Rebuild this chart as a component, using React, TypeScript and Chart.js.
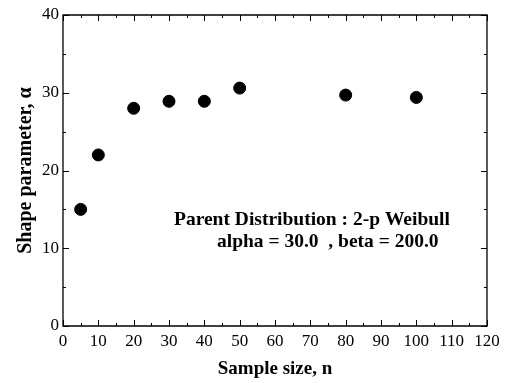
import React, { useEffect, useRef } from "react";
import { Chart, registerables } from "chart.js";

Chart.register(...registerables);

const sampleSizes = [5, 10, 20, 30, 40, 50, 80, 100];
const shapeValues = [15, 22, 28, 28.9, 28.9, 30.6, 29.7, 29.4];
const xMajorTicks = [0, 10, 20, 30, 40, 50, 60, 70, 80, 90, 100, 110, 120];
const yMajorTicks = [0, 10, 20, 30, 40];
const xTitle = "Sample size, n";
const yTitle = "Shape parameter, \u03b1";
const noteLine1 = "Parent Distribution : 2-p Weibull";
const noteLine2 = "alpha = 30.0  , beta = 200.0";

const SERIF = "'Liberation Serif', 'Times New Roman', serif";

const framePlugin = {
  id: "frameTicks",
  beforeDatasetsDraw(chart: any) {
    const { ctx, chartArea } = chart;
    const { left, right, top, bottom } = chartArea;
    const xs = chart.scales.x;
    const ys = chart.scales.y;
    ctx.save();
    ctx.strokeStyle = "#000";
    ctx.lineWidth = 1.3;
    ctx.beginPath();
    ctx.rect(left, top, right - left, bottom - top);
    ctx.stroke();
    ctx.lineWidth = 1;
    ctx.beginPath();
    for (let v = 0; v <= 120; v += 5) {
      const px = Math.round(xs.getPixelForValue(v)) + 0.5;
      const len = v % 10 === 0 ? 6 : 3;
      ctx.moveTo(px, bottom);
      ctx.lineTo(px, bottom - len);
      ctx.moveTo(px, top);
      ctx.lineTo(px, top + len);
    }
    for (let v = 0; v <= 40; v += 5) {
      const py = Math.round(ys.getPixelForValue(v)) + 0.5;
      const len = v % 10 === 0 ? 6 : 3;
      ctx.moveTo(left, py);
      ctx.lineTo(left + len, py);
      ctx.moveTo(right, py);
      ctx.lineTo(right - len, py);
    }
    ctx.stroke();
    ctx.restore();
  },
  afterDraw(chart: any) {
    const { ctx, chartArea } = chart;
    ctx.save();
    ctx.fillStyle = "#000";
    ctx.font = `bold 19.5px ${SERIF}`;
    ctx.textAlign = "left";
    ctx.textBaseline = "alphabetic";
    ctx.fillText(noteLine1, chartArea.left + 111, chartArea.top + 210);
    ctx.fillText(noteLine2, chartArea.left + 154, chartArea.top + 231.5);
    ctx.restore();
  },
};

export default function App() {
  const ref = useRef<HTMLCanvasElement | null>(null);
  useEffect(() => {
    document.body.style.margin = "0";
    const canvas = ref.current;
    if (!canvas) return;
    const chart = new Chart(canvas, {
      type: "scatter",
      data: {
        datasets: [
          {
            data: sampleSizes.map((x, i) => ({ x, y: shapeValues[i] })),
            backgroundColor: "#000",
            borderColor: "#000",
            borderWidth: 1,
            pointRadius: 6,
            pointHoverRadius: 6,
          },
        ],
      },
      options: {
        animation: false,
        responsive: false,
        devicePixelRatio: 1,
        layout: { padding: { top: 15, right: 19, left: 0, bottom: 0 } },
        plugins: { legend: { display: false }, tooltip: { enabled: false } },
        scales: {
          x: {
            type: "linear",
            min: 0,
            max: 120,
            grid: { display: false, drawTicks: false },
            border: { display: false },
            afterBuildTicks: (s: any) => {
              s.ticks = xMajorTicks.map((v) => ({ value: v }));
            },
            afterFit: (s: any) => {
              s.height = 57;
            },
            ticks: {
              color: "#000",
              font: { family: SERIF, size: 17 },
              padding: 5,
              maxRotation: 0,
              autoSkip: false,
            },
            title: {
              display: true,
              text: xTitle,
              color: "#000",
              font: { family: SERIF, size: 19, weight: "bold" },
              padding: { top: 0, bottom: 3 },
            },
          },
          y: {
            type: "linear",
            min: 0,
            max: 40,
            grid: { display: false, drawTicks: false },
            border: { display: false },
            afterBuildTicks: (s: any) => {
              s.ticks = yMajorTicks.map((v) => ({ value: v }));
            },
            afterFit: (s: any) => {
              s.width = 63;
            },
            ticks: {
              color: "#000",
              font: { family: SERIF, size: 17 },
              padding: 4,
            },
            title: {
              display: true,
              text: yTitle,
              color: "#000",
              font: { family: SERIF, size: 20, weight: "bold" },
              padding: { top: 14, bottom: 0 },
            },
          },
        },
      },
      plugins: [framePlugin],
    } as any);
    return () => chart.destroy();
  }, []);
  return (
    <div style={{ position: "fixed", left: 0, top: 0, width: 506, height: 383 }}>
      <canvas ref={ref} width={506} height={383} style={{ width: 506, height: 383, display: "block" }} />
    </div>
  );
}
